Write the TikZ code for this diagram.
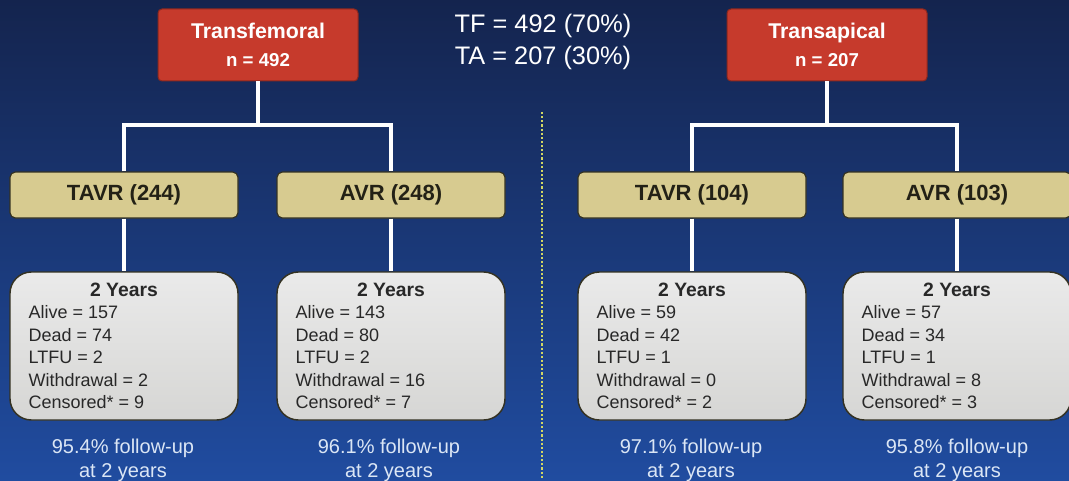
\documentclass[tikz,border=0pt]{standalone}
\usepackage{fontspec}
\setmainfont{Liberation Sans}
\usetikzlibrary{calc}

\definecolor{navytop}{RGB}{20,36,78}
\definecolor{navybot}{RGB}{32,76,160}
\definecolor{boxred}{RGB}{198,58,44}
\definecolor{boxtan}{RGB}{215,203,144}
\definecolor{boxedge}{RGB}{52,50,34}
\definecolor{notecol}{RGB}{219,230,245}
\definecolor{divcol}{RGB}{210,215,100}

\tikzset{every picture/.style={line width=0.75pt}}
\tikzset{
  armbox/.style={draw={rgb,255:red,140;green,40;blue,30},fill=boxred,rounded corners=3pt,
    minimum width=150pt,minimum height=54pt,align=center,text=white,font=\fontsize{16}{19}\selectfont\bfseries},
  groupbox/.style={draw=boxedge,line width=0.9pt,fill=boxtan,rounded corners=4pt,
    minimum width=171pt,minimum height=34.5pt,font=\fontsize{16.5}{19}\selectfont\bfseries,text={rgb,255:red,35;green,33;blue,22}},
  yearbox/.style={draw=boxedge,line width=1.1pt,top color={rgb,255:red,234;green,234;blue,234},
    bottom color={rgb,255:red,214;green,214;blue,212},rounded corners=16pt,
    minimum width=171pt,minimum height=111pt,inner sep=0pt,text={rgb,255:red,40;green,40;blue,40}},
  link/.style={draw=white,line width=2.3pt},
  note/.style={text=notecol,align=center,font=\fontsize{15}{18}\selectfont}
}

\newcommand{\yearlist}[5]{\begin{minipage}{143pt}\fontsize{13.5}{16.9}\selectfont
  {\centering\fontsize{14.5}{16.9}\selectfont\bfseries 2 Years\par}
  Alive = #1\par Dead = #2\par LTFU = #3\par Withdrawal = #4\par Censored* = #5
\end{minipage}}

\begin{document}
\begin{tikzpicture}[x=0.75pt,y=0.75pt,yscale=-1,xscale=1]
\useasboundingbox (0,0) rectangle (1069,481);

%Background
\shade[top color=navytop,bottom color=navybot] (0,0) rectangle (1069,481);

%Divider
\coordinate (divtop) at (542,112);
\coordinate (divbot) at (542,478);
\draw[divcol,line width=2.1pt,dash pattern=on 1.6pt off 1.5pt] (divtop) -- (divbot);

% Text Node
\node[text=white,align=center,font=\fontsize{19}{24}\selectfont] (split) at (543,42) {TF = 492 (70\%)\\TA = 207 (30\%)};

%Shape: arms
\node[armbox] (tf) at (258,45) {Transfemoral\\[2pt]{\fontsize{14}{16}\selectfont n = 492}};
\node[armbox] (ta) at (827,45) {Transapical\\[2pt]{\fontsize{14}{16}\selectfont n = 207}};

%Shape: groups
\node[groupbox] (tavrA) at (124,195) {TAVR (244)};
\node[groupbox] (avrA) at (391,195) {AVR (248)};
\node[groupbox] (tavrB) at (692,195) {TAVR (104)};
\node[groupbox] (avrB) at (957,195) {AVR (103)};

%Shape: 2 year boxes
\node[yearbox] (yrA) at (124,346) {\yearlist{157}{74}{2}{2}{9}};
\node[yearbox] (yrB) at (391,346) {\yearlist{143}{80}{2}{16}{7}};
\node[yearbox] (yrC) at (692,346) {\yearlist{59}{42}{1}{0}{2}};
\node[yearbox] (yrD) at (957,346) {\yearlist{57}{34}{1}{8}{3}};

% Text Node
\node[note] (fuA) at (123,460) {95.4\% follow-up\\at 2 years};
\node[note] (fuB) at (389,460) {96.1\% follow-up\\at 2 years};
\node[note] (fuC) at (691,460) {97.1\% follow-up\\at 2 years};
\node[note] (fuD) at (957,460) {95.8\% follow-up\\at 2 years};

%Straight Lines
\coordinate (tfsplit) at (258,125);
\coordinate (tasplit) at (827,125);
\draw[link] (tf.south) -- (tfsplit);
\draw[link] (tavrA.north) |- (tfsplit) -| (avrA.north);
\draw[link] (ta.south) -- (tasplit);
\draw[link] (tavrB.north) |- (tasplit) -| (avrB.north);
\draw[link] (tavrA.south) -- (yrA.north);
\draw[link] (avrA.south) -- (yrB.north);
\draw[link] (tavrB.south) -- (yrC.north);
\draw[link] (avrB.south) -- (yrD.north);

\end{tikzpicture}
\end{document}
